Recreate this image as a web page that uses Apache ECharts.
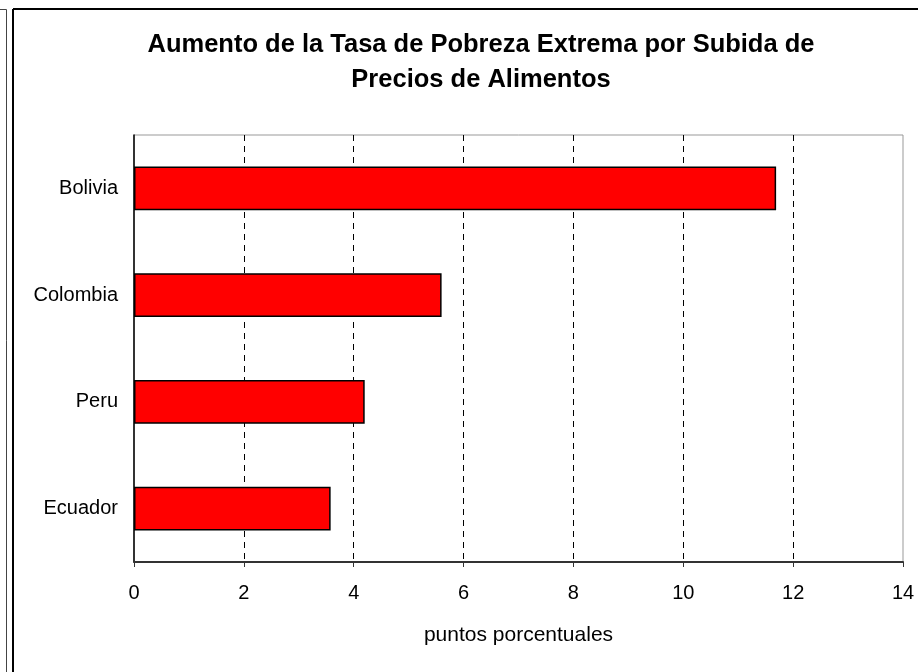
<!DOCTYPE html>
<html>
<head>
<meta charset="utf-8">
<script src="https://cdn.jsdelivr.net/npm/echarts@6/dist/echarts.min.js"></script>
<style>
  html, body { margin: 0; padding: 0; background: #fff; }
  #chart1 { width: 918px; height: 672px; }
</style>
</head>
<body>
<div id="chart1"></div>
<script>
// datos del gráfico
let paises = ["Bolivia", "Colombia", "Peru", "Ecuador"];
let aumento = [11.69, 5.6, 4.2, 3.58];
let ticksX = [0, 2, 4, 6, 8, 10, 12, 14];

let titulo1 = "Aumento de la Tasa de Pobreza Extrema por Subida de";
let titulo2 = "Precios de Alimentos";

let myChart1 = echarts.init(document.getElementById("chart1"));

let fuente = "'Liberation Sans', Arial, sans-serif";

let option = {
  animation: false,
  graphic: [
    // marco del gráfico
    {type: 'line', shape: {x1: 0, y1: 9.5, x2: 6.5, y2: 9.5}, style: {stroke: '#444', lineWidth: 1}},
    {type: 'line', shape: {x1: 6.5, y1: 9.5, x2: 6.5, y2: 672}, style: {stroke: '#444', lineWidth: 1}},
    {type: 'line', shape: {x1: 13, y1: 9, x2: 918, y2: 9}, style: {stroke: '#000', lineWidth: 2}},
    {type: 'line', shape: {x1: 13, y1: 9, x2: 13, y2: 672}, style: {stroke: '#000', lineWidth: 2}},
    // titulo
    {
      type: 'text', x: 481, y: 45,
      style: {text: titulo1, fill: '#000', font: "bold 25.5px " + fuente, align: 'center', verticalAlign: 'middle'}
    },
    {
      type: 'text', x: 481, y: 80,
      style: {text: titulo2, fill: '#000', font: "bold 25.5px " + fuente, align: 'center', verticalAlign: 'middle'}
    }
  ],
  grid: {
    left: 134, right: 15, top: 135, bottom: 110,
    show: true, borderColor: '#999', borderWidth: 1,
    outerBoundsMode: 'none'
  },
  xAxis: {
    type: 'value',
    min: ticksX[0],
    max: ticksX[ticksX.length - 1],
    interval: 2,
    name: "puntos porcentuales",
    nameLocation: 'middle',
    nameGap: 63,
    nameTextStyle: {color: '#000', fontSize: 21, fontFamily: fuente},
    axisLine: {show: true, lineStyle: {color: '#333', width: 2}},
    axisTick: {show: true, length: 5, lineStyle: {color: '#333', width: 1}},
    axisLabel: {color: '#000', fontSize: 20, fontFamily: fuente, margin: 21},
    splitLine: {
      show: true, showMinLine: false, showMaxLine: false,
      lineStyle: {color: '#000', type: [6, 5], width: 1}
    }
  },
  yAxis: {
    type: 'category',
    inverse: true,
    data: paises,
    axisLine: {show: true, lineStyle: {color: '#000', width: 1.5}},
    axisTick: {show: false},
    axisLabel: {color: '#000', fontSize: 20, fontFamily: fuente, margin: 16},
    splitLine: {show: false}
  },
  series: [{
    type: 'bar',
    data: aumento,
    barCategoryGap: '59%',
    itemStyle: {color: '#ff0000', borderColor: '#000', borderWidth: 1.5}
  }]
};

myChart1.setOption(option);
</script>
</body>
</html>
